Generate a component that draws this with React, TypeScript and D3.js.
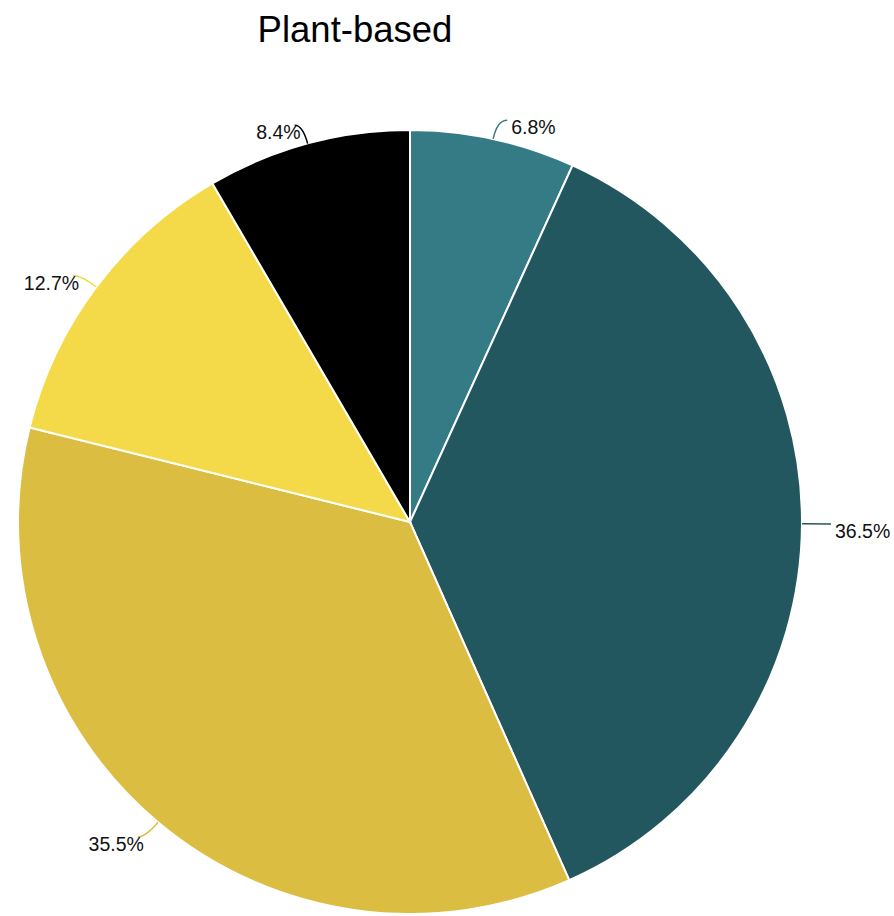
import React from "react";
import * as d3 from "d3";

const categories = ["A", "B", "C", "D", "E"];
const values = [6.8, 36.5, 35.5, 12.7, 8.4];
const labels = ["6.8%", "36.5%", "35.5%", "12.7%", "8.4%"];
const colors = ["#357b85", "#23575f", "#dbbd42", "#f4da48", "#000000"];
const title = "Plant-based";

const W = 894;
const H = 916;
const cx = 410;
const cy = 522;
const R = 392;

export default function App() {
  const pie = d3.pie<number>().sort(null).value((d) => d)(values);
  const arc = d3.arc<d3.PieArcDatum<number>>().innerRadius(0).outerRadius(R);
  return (
    <svg width={W} height={H} style={{ position: "absolute", left: 0, top: 0 }}>
      <text x={355} y={42} textAnchor="middle" fontFamily="Liberation Sans, Arial, sans-serif" fontSize={36.5} fill="#000">
        {title}
      </text>
      <g transform={`translate(${cx},${cy})`}>
        {pie.map((p, i) => (
          <path key={categories[i]} d={arc(p) || ""} fill={colors[i]} stroke="#fff" strokeWidth={2} />
        ))}
        {pie.map((p, i) => {
          const a = (p.startAngle + p.endAngle) / 2;
          const dx = Math.sin(a);
          const dy = -Math.cos(a);
          const p0 = [R * dx, R * dy];
          const p1 = [(R + 19) * dx, (R + 19) * dy];
          const right = dx >= 0;
          const p2 = [p1[0] + (right ? 10 : -8), p1[1]];
          const path = d3.path();
          path.moveTo(p0[0], p0[1]);
          path.quadraticCurveTo(p1[0], p1[1], p2[0], p2[1]);
          return (
            <g key={"l" + i}>
              <path d={path.toString()} fill="none" stroke={colors[i]} strokeWidth={1.5} />
              <text
                x={p2[0] + (right ? 4 : 6)}
                y={p2[1] + 14}
                textAnchor={right ? "start" : "end"}
                fontFamily="Liberation Sans, Arial, sans-serif"
                fontSize={19.5}
                fill="#111"
              >
                {labels[i]}
              </text>
            </g>
          );
        })}
      </g>
    </svg>
  );
}
